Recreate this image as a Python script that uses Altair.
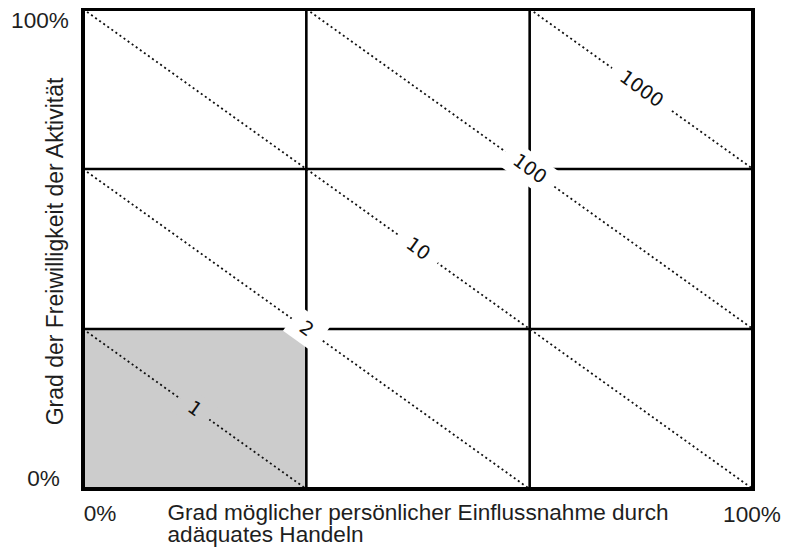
import altair as alt
import pandas as pd

# ---- data ----
grid_x = [1, 2]
grid_y = [1, 2]
diag_labels = ["1", "2", "10", "100", "1000"]
diag_x_start = [0, 0, 0, 1, 2]
diag_y_start = [1, 2, 3, 3, 3]
diag_x_end = [1, 2, 3, 3, 3]
diag_y_end = [0, 0, 0, 1, 2]
shaded_x = [0, 1]
shaded_y = [0, 1]
frame_x = [0, 3]
frame_y = [0, 3]
x_tick_values = [0, 3]
x_tick_labels = ["0%", "100%"]
y_tick_values = [0, 3]
y_tick_labels = ["0%", "100%"]
x_title = ["Grad möglicher persönlicher Einflussnahme durch", "adäquates Handeln"]
y_title = "Grad der Freiwilligkeit der Aktivität"

W, H = 670, 480
AX_FONT = "Liberation Sans"
LBL_FONT = "DejaVu Sans"
TXT = "#1e1e1e"
GRAY = "#cccccc"
ANGLE = 35.6
DIAG_PX = (((W / 3) ** 2 + (H / 3) ** 2) ** 0.5)  # pixel length of one data unit along diagonal

xs = alt.Scale(domain=frame_x, nice=False, zero=False)
ys = alt.Scale(domain=frame_y, nice=False, zero=False)

shade_df = pd.DataFrame({"x": [shaded_x[0]], "x2": [shaded_x[1]], "y": [shaded_y[0]], "y2": [shaded_y[1]]})
frame_df = pd.DataFrame({"x": [frame_x[0]], "x2": [frame_x[1]], "y": [frame_y[0]], "y2": [frame_y[1]]})
diag_df = pd.DataFrame({
    "label": diag_labels,
    "x1": diag_x_start, "y1": diag_y_start,
    "x2": diag_x_end, "y2": diag_y_end,
})

x_axis = alt.Axis(
    title=x_title, labels=False, ticks=False, domain=False, grid=False,
    titleFont=AX_FONT, titleFontSize=22.6, titleFontWeight="normal", titleColor=TXT,
    titleAnchor="start", titleAlign="left", titleBaseline="top",
    titleX=84, titleY=12, titleLineHeight=22,
)
y_axis = alt.Axis(
    title=y_title, labels=False, ticks=False, domain=False, grid=False,
    titleFont=AX_FONT, titleFontSize=23, titleFontWeight="normal", titleColor=TXT,
    titleAngle=270, titleAlign="center", titleBaseline="middle",
    titleX=-28, titleY=242,
)

def X(field):
    return alt.X(field, scale=xs)

def Y(field):
    return alt.Y(field, scale=ys)

shade = alt.Chart(shade_df).mark_rect(color=GRAY).encode(
    x=alt.X("x:Q", scale=xs, axis=x_axis), x2="x2:Q",
    y=alt.Y("y:Q", scale=ys, axis=y_axis), y2="y2:Q",
)

vgrid = alt.Chart(pd.DataFrame({"v": grid_x})).mark_rule(color="black", strokeWidth=2.6).encode(
    x=X("v:Q")
)
hgrid = alt.Chart(pd.DataFrame({"v": grid_y})).mark_rule(color="black", strokeWidth=2.6).encode(
    y=Y("v:Q")
)

diags = alt.Chart(diag_df).mark_rule(color="#111111", strokeWidth=1.8, strokeDash=[2, 3]).encode(
    x=X("x1:Q"), y=Y("y1:Q"), x2="x2:Q", y2="y2:Q",
)

lbl_base = alt.Chart(diag_df).transform_calculate(
    mx="(datum.x1 + datum.x2) / 2",
    my="(datum.y1 + datum.y2) / 2",
    t=f"(length(datum.label) * 12 + 24) / 2 / {DIAG_PX}",
).transform_calculate(
    bx1="datum.mx - datum.t", by1="datum.my + datum.t",
    bx2="datum.mx + datum.t", by2="datum.my - datum.t",
)

lbl_bg = lbl_base.mark_rule(strokeWidth=30, strokeCap="butt").encode(
    x=X("bx1:Q"), y=Y("by1:Q"), x2="bx2:Q", y2="by2:Q",
    color=alt.condition(alt.datum.label == diag_labels[0], alt.value(GRAY), alt.value("white")),
)

lbl_text = lbl_base.mark_text(
    font=LBL_FONT, fontSize=19, angle=ANGLE, align="center", baseline="middle", color="#111111"
).encode(
    x=X("mx:Q"), y=Y("my:Q"), text="label:N",
)

frame = alt.Chart(frame_df).mark_rect(fillOpacity=0, stroke="black", strokeWidth=4).encode(
    x=X("x:Q"), x2="x2:Q", y=Y("y:Q"), y2="y2:Q",
)

def tick_text(values, labels, i, **kw):
    df = pd.DataFrame({"v": [values[i]], "t": [labels[i]]})
    return alt.Chart(df).mark_text(font=AX_FONT, fontSize=22.6, color=TXT, align="center",
                                   baseline="middle", **kw)

x0 = tick_text(x_tick_values, x_tick_labels, 0, dx=17).encode(
    x=X("v:Q"), y=alt.value(504.5), text="t:N")
x1 = tick_text(x_tick_values, x_tick_labels, 1, dx=-1).encode(
    x=X("v:Q"), y=alt.value(506), text="t:N")
y0 = tick_text(y_tick_values, y_tick_labels, 0, dy=-10.5).encode(
    y=Y("v:Q"), x=alt.value(-39.5), text="t:N")
y1 = tick_text(y_tick_values, y_tick_labels, 1, dy=12).encode(
    y=Y("v:Q"), x=alt.value(-43), text="t:N")

chart = alt.layer(
    shade, vgrid, hgrid, diags, lbl_bg, lbl_text, frame, x0, x1, y0, y1
).properties(
    width=W, height=H,
    autosize=alt.AutoSizeParams(type="none"),
    padding={"left": 75, "top": 1, "right": 29, "bottom": 58},
    background="white",
).configure_view(strokeWidth=0)

chart.save("out.html", embed_options={"renderer": "svg", "actions": False})
